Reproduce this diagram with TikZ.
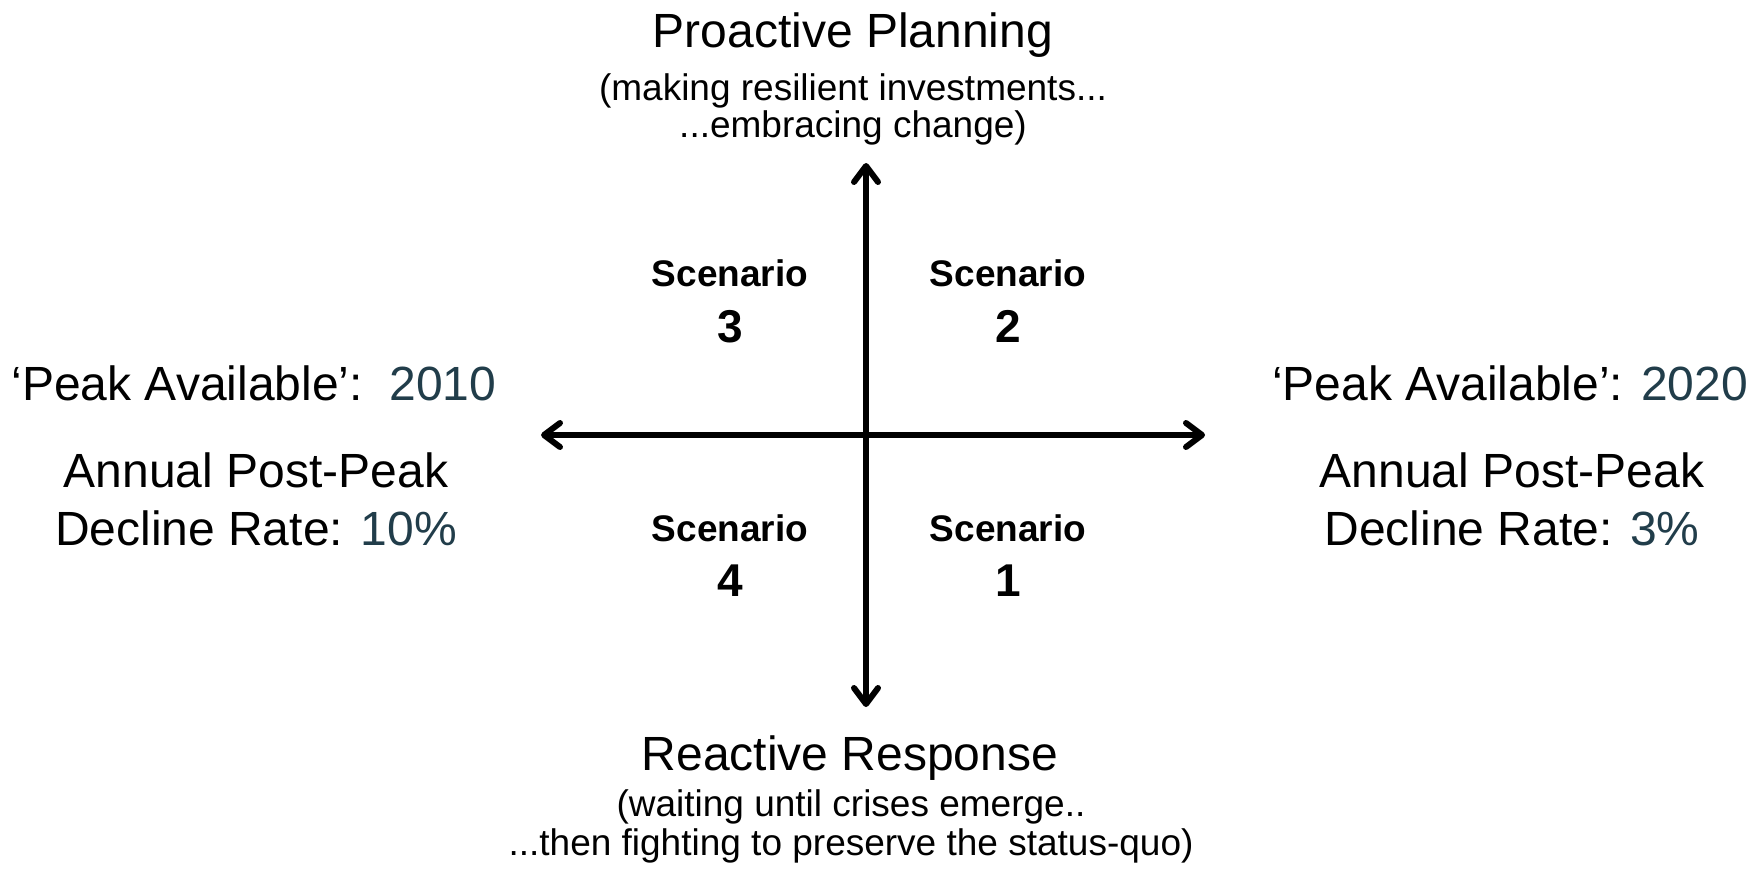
\documentclass[tikz,border=0pt]{standalone}
\usepackage{fontspec}
\setmainfont{Liberation Sans}
\usetikzlibrary{arrows.meta}
\definecolor{numc}{HTML}{213D4A}
\tikzset{
  bigtxt/.style={anchor=base, inner sep=0pt, font=\fontsize{48}{50}\selectfont},
  subtxt/.style={anchor=base, inner sep=0pt, font=\fontsize{37}{39}\selectfont},
  scentxt/.style={anchor=base, inner sep=0pt, font=\bfseries\fontsize{37}{40}\selectfont},
  numtxt/.style={anchor=base, inner sep=0pt, font=\bfseries\fontsize{46}{48}\selectfont},
  axis/.style={line width=6pt, {Straight Barb[length=16pt, width=24pt, line cap=round, line join=round]}-{Straight Barb[length=16pt, width=24pt, line cap=round, line join=round]}}
}
\begin{document}
\begin{tikzpicture}[x=1pt, y=-1pt]
\useasboundingbox (0,0) rectangle (1760,871);
% axes
\coordinate (N) at (866,163);
\coordinate (S) at (866,707);
\coordinate (W) at (541,435);
\coordinate (E) at (1205,435);
\draw[axis] (S) -- (N);
\draw[axis] (W) -- (E);
% top
\node[bigtxt] (top) at (853,47) {Proactive Planning};
\node[subtxt] (top1) at (853,100) {(making resilient investments...};
\node[subtxt] (top2) at (853,137) {...embracing change)};
% bottom
\node[bigtxt] (bot) at (850,770) {Reactive Response};
\node[subtxt] (bot1) at (851,816) {(waiting until crises emerge..};
\node[subtxt] (bot2) at (851,855) {...then fighting to preserve the status-quo)};
% left
\node[bigtxt] (l1) at (254,400) {‘Peak Available’:\ \ \textcolor{numc}{2010}};
\node[bigtxt] (l2) at (256,487) {Annual Post-Peak};
\node[bigtxt] (l3) at (256,545) {Decline Rate: \textcolor{numc}{10\%}};
% right
\node[bigtxt] (r1) at (1510,400) {‘Peak Available’: \textcolor{numc}{2020}};
\node[bigtxt] (r2) at (1512,487) {Annual Post-Peak};
\node[bigtxt] (r3) at (1512,545) {Decline Rate: \textcolor{numc}{3\%}};
% scenarios
\node[scentxt] (s3) at (730,286) {Scenario};
\node[numtxt] (s3n) at (730,342) {3};
\node[scentxt] (s2) at (1008,286) {Scenario};
\node[numtxt] (s2n) at (1008,342) {2};
\node[scentxt] (s4) at (730,541) {Scenario};
\node[numtxt] (s4n) at (730,596) {4};
\node[scentxt] (s1) at (1008,541) {Scenario};
\node[numtxt] (s1n) at (1008,596) {1};
\end{tikzpicture}
\end{document}
